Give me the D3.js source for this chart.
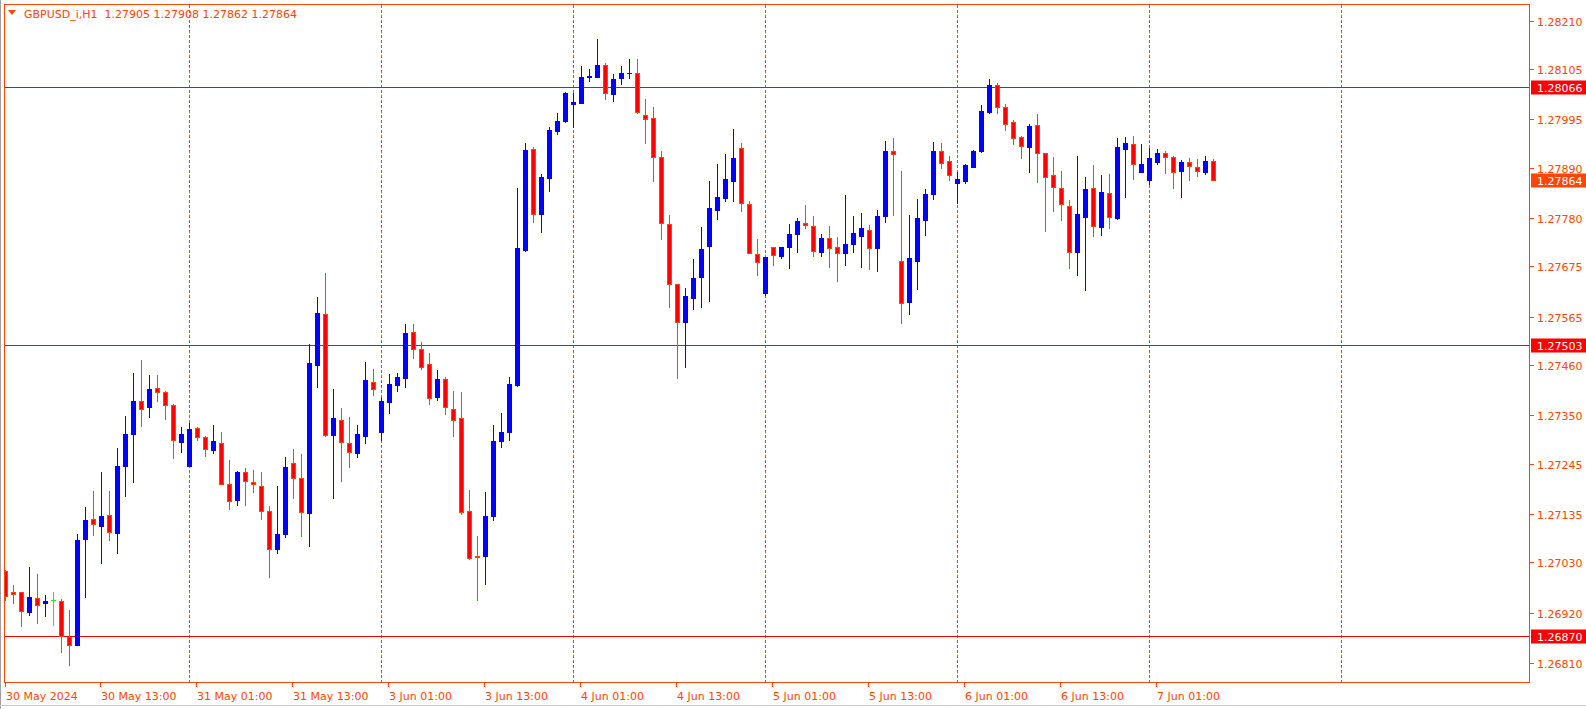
<!DOCTYPE html>
<html><head><meta charset="utf-8">
<script src="https://cdn.jsdelivr.net/npm/d3@7"></script>
<style>body{margin:0;background:#fff;overflow:hidden}svg{display:block}</style>
</head><body>
<svg id="c" width="1586" height="709"></svg>
<script>
const titleText = "GBPUSD_i,H1  1.27905 1.27908 1.27862 1.27864";
const opens = [1.27011,1.26965,1.26965,1.26922,1.26952,1.26942,1.26947,1.26945,1.26868,1.26850,
1.27081,1.27124,1.27110,1.27133,1.27094,1.27240,1.27310,1.27381,1.27369,1.27409,
1.27401,1.27373,1.27293,1.27240,1.27322,1.27304,1.27275,1.27291,1.27201,1.27166,
1.27226,1.27205,1.27196,1.27141,1.27059,1.27092,1.27246,1.27213,1.27138,1.27460,
1.27572,1.27308,1.27341,1.27290,1.27269,1.27306,1.27422,1.27314,1.27380,1.27417,
1.27432,1.27531,1.27494,1.27462,1.27391,1.27429,1.27365,1.27344,1.27141,1.27043,
1.27044,1.27131,1.27294,1.27315,1.27416,1.27710,1.27930,1.27789,1.27868,1.27970,
1.27991,1.28028,1.28031,1.28088,1.28088,1.28113,1.28051,1.28086,1.28095,1.28097,
1.28004,1.27997,1.27912,1.27766,1.27636,1.27554,1.27606,1.27652,1.27720,1.27798,
1.27824,1.27861,1.27933,1.27811,1.27702,1.27617,1.27716,1.27698,1.27717,1.27746,
1.27769,1.27762,1.27707,1.27736,1.27716,1.27704,1.27724,1.27741,1.27755,1.27715,
1.27785,1.27926,1.27686,1.27598,1.27687,1.27776,1.27833,1.27926,1.27904,1.27857,
1.27861,1.27892,1.27927,1.28012,1.28071,1.28023,1.27989,1.27956,1.27935,1.27982,
1.27921,1.27873,1.27845,1.27806,1.27707,1.27783,1.27845,1.27760,1.27834,1.27781,
1.27931,1.27941,1.27881,1.27864,1.27902,1.27922,1.27913,1.27883,1.27902,1.27891,
1.27881,1.27905];
const highs = [1.27013,1.26981,1.26966,1.27020,1.27004,1.26959,1.26965,1.26950,1.26926,1.27092,
1.27150,1.27185,1.27227,1.27185,1.27279,1.27349,1.27442,1.27471,1.27438,1.27438,
1.27403,1.27375,1.27324,1.27333,1.27324,1.27305,1.27329,1.27314,1.27253,1.27229,
1.27235,1.27231,1.27227,1.27153,1.27196,1.27259,1.27277,1.27266,1.27506,1.27608,
1.27660,1.27408,1.27366,1.27347,1.27329,1.27466,1.27451,1.27387,1.27440,1.27442,
1.27549,1.27549,1.27509,1.27486,1.27450,1.27434,1.27403,1.27401,1.27187,1.27087,
1.27183,1.27329,1.27356,1.27434,1.27845,1.27943,1.27935,1.27877,1.27978,1.28009,
1.28055,1.28052,1.28111,1.28105,1.28170,1.28118,1.28094,1.28111,1.28126,1.28126,
1.28039,1.28022,1.27926,1.27787,1.27637,1.27628,1.27691,1.27760,1.27861,1.27898,
1.27919,1.27974,1.27943,1.27817,1.27734,1.27695,1.27716,1.27717,1.27766,1.27781,
1.27808,1.27784,1.27745,1.27762,1.27738,1.27830,1.27785,1.27791,1.27765,1.27797,
1.27948,1.27954,1.27883,1.27787,1.27821,1.27843,1.27946,1.27943,1.27915,1.27880,
1.27897,1.27928,1.28026,1.28083,1.28074,1.28028,1.27993,1.27959,1.27985,1.28007,
1.27922,1.27913,1.27882,1.27819,1.27915,1.27869,1.27896,1.27874,1.27876,1.27954,
1.27957,1.27959,1.27941,1.27933,1.27930,1.27926,1.27915,1.27906,1.27911,1.27909,
1.27915,1.27908];
const lows = [1.26948,1.26942,1.26892,1.26915,1.26898,1.26914,1.26893,1.26835,1.26806,1.26849,
1.26955,1.27089,1.27029,1.27079,1.27051,1.27175,1.27206,1.27328,1.27347,1.27382,
1.27343,1.27258,1.27271,1.27239,1.27296,1.27262,1.27269,1.27200,1.27147,1.27155,
1.27155,1.27184,1.27125,1.26999,1.27050,1.27086,1.27171,1.27087,1.27066,1.27413,
1.27306,1.27171,1.27208,1.27238,1.27260,1.27291,1.27394,1.27296,1.27356,1.27404,
1.27413,1.27476,1.27452,1.27375,1.27384,1.27354,1.27305,1.27135,1.27038,1.26948,
1.26983,1.27122,1.27281,1.27296,1.27415,1.27708,1.27771,1.27750,1.27839,1.27964,
1.27990,1.27978,1.28030,1.28079,1.28087,1.28039,1.28035,1.28073,1.28086,1.28009,
1.27944,1.27861,1.27735,1.27587,1.27431,1.27456,1.27581,1.27587,1.27600,1.27779,
1.27818,1.27818,1.27796,1.27703,1.27657,1.27612,1.27678,1.27694,1.27671,1.27706,
1.27759,1.27698,1.27698,1.27674,1.27643,1.27678,1.27707,1.27674,1.27669,1.27665,
1.27771,1.27787,1.27552,1.27572,1.27626,1.27744,1.27822,1.27890,1.27863,1.27812,
1.27857,1.27891,1.27925,1.28009,1.28009,1.27972,1.27941,1.27911,1.27880,1.27858,
1.27752,1.27795,1.27776,1.27671,1.27657,1.27623,1.27741,1.27743,1.27759,1.27779,
1.27826,1.27866,1.27880,1.27854,1.27898,1.27879,1.27846,1.27826,1.27864,1.27872,
1.27877,1.27862];
const closes = [1.26957,1.26960,1.26925,1.26954,1.26938,1.26946,1.26947,1.26869,1.26849,1.27079,
1.27122,1.27113,1.27131,1.27097,1.27240,1.27309,1.27381,1.27365,1.27408,1.27400,
1.27372,1.27296,1.27309,1.27320,1.27304,1.27277,1.27294,1.27201,1.27164,1.27227,
1.27208,1.27200,1.27141,1.27060,1.27091,1.27238,1.27214,1.27140,1.27464,1.27573,
1.27307,1.27344,1.27293,1.27270,1.27309,1.27427,1.27407,1.27381,1.27418,1.27434,
1.27530,1.27494,1.27456,1.27389,1.27429,1.27369,1.27339,1.27140,1.27040,1.27042,
1.27130,1.27294,1.27315,1.27418,1.27715,1.27928,1.27788,1.27869,1.27972,1.27991,
1.28052,1.28033,1.28087,1.28089,1.28113,1.28052,1.28083,1.28096,1.28096,1.28012,
1.27995,1.27912,1.27769,1.27636,1.27553,1.27610,1.27649,1.27713,1.27802,1.27826,
1.27865,1.27911,1.27812,1.27703,1.27684,1.27695,1.27700,1.27716,1.27745,1.27773,
1.27764,1.27709,1.27736,1.27714,1.27703,1.27723,1.27747,1.27758,1.27715,1.27784,
1.27926,1.27919,1.27594,1.27692,1.27780,1.27832,1.27926,1.27901,1.27873,1.27865,
1.27896,1.27926,1.28013,1.28071,1.28021,1.27984,1.27954,1.27938,1.27980,1.27921,
1.27870,1.27848,1.27810,1.27707,1.27789,1.27843,1.27763,1.27837,1.27783,1.27935,
1.27943,1.27897,1.27898,1.27911,1.27922,1.27914,1.27881,1.27902,1.27894,1.27883,
1.27904,1.27864];
const timeLabels = ["30 May 2024","30 May 13:00","31 May 01:00","31 May 13:00","3 Jun 01:00","3 Jun 13:00","4 Jun 01:00","4 Jun 13:00","5 Jun 01:00","5 Jun 13:00","6 Jun 01:00","6 Jun 13:00","7 Jun 01:00"];
const timeLabelBars = [0,12,24,36,48,60,72,84,96,108,120,132,144];
const separatorBars = [23,47,71,95,119,143,167];
const priceTicks = [1.28210,1.28105,1.27995,1.27890,1.27780,1.27675,1.27565,1.27460,1.27350,1.27245,1.27135,1.27030,1.26920,1.26810];
const levelLines = [1.28066,1.27503,1.26870];
const lastPrice = 1.27864;

const FG = "#ff4500", BULL = "#0000ff", BEAR_FILL = "#ff0000", BEAR_LINE = "#ff4500", DOJI = "#00ff00", LEVEL = "#ff0000";
const FONT = "'DejaVu Sans', Verdana, sans-serif";
const L = 4.5, R = 1529.5, T = 4.5, B = 682.5;

const svg = d3.select("#c");
const x = d3.scaleLinear().domain([0, 151]).range([5.5, 5.5 + 151 * 8]);
const y = d3.scaleLinear().domain([1.26810, 1.28210]).range([663.3, 20.7]);

const bars = d3.range(opens.length).map(i => ({i, o: opens[i], h: highs[i], l: lows[i], c: closes[i]}));

// window edges
svg.append("line").attr("x1",0.5).attr("x2",0.5).attr("y1",0).attr("y2",709).attr("stroke","#a0a0a0");
svg.append("line").attr("x1",0).attr("x2",1586).attr("y1",705.5).attr("y2",705.5).attr("stroke","#c8c8c8");

svg.append("clipPath").attr("id","plot").append("rect").attr("x",L).attr("y",T).attr("width",R-L).attr("height",B-T);
const g = svg.append("g").attr("clip-path","url(#plot)").attr("shape-rendering","crispEdges");

// separators
g.selectAll("line.sep").data(separatorBars).join("line")
  .attr("x1", d => x(d)).attr("x2", d => x(d)).attr("y1", T).attr("y2", B)
  .attr("stroke", FG).attr("stroke-width", 1).attr("stroke-dasharray", "3,2");

// level lines
g.selectAll("line.lvl").data(levelLines).join("line")
  .attr("x1", L).attr("x2", R).attr("y1", d => Math.round(y(d)) + 0.5).attr("y2", d => Math.round(y(d)) + 0.5)
  .attr("stroke", LEVEL).attr("stroke-width", 1);

const col = d => d.c > d.o ? BULL : (d.c < d.o ? BEAR_LINE : DOJI);
// wicks
g.selectAll("line.wick").data(bars).join("line")
  .attr("x1", d => x(d.i)).attr("x2", d => x(d.i))
  .attr("y1", d => Math.round(y(d.h))).attr("y2", d => Math.round(y(d.l)) + 1)
  .attr("stroke", col).attr("stroke-width", 1);
// bodies
bars.forEach(d => {
  const top = Math.round(y(Math.max(d.o, d.c)));
  const bot = Math.round(y(Math.min(d.o, d.c)));
  if (d.c > d.o) {
    g.append("rect").attr("x", x(d.i) - 2.5).attr("y", top).attr("width", 5).attr("height", Math.max(1, bot - top + 1)).attr("fill", BULL);
  } else if (d.c < d.o) {
    g.append("rect").attr("x", x(d.i) - 2).attr("y", top + 0.5).attr("width", 4).attr("height", Math.max(0.5, bot - top))
      .attr("fill", BEAR_FILL).attr("stroke", BEAR_LINE).attr("stroke-width", 1);
  } else {
    g.append("line").attr("x1", x(d.i) - 2.5).attr("x2", x(d.i) + 2.5).attr("y1", top + 0.5).attr("y2", top + 0.5).attr("stroke", DOJI);
  }
});

// frame
svg.append("rect").attr("x", L).attr("y", T).attr("width", R - L).attr("height", B - T)
  .attr("fill", "none").attr("stroke", FG).attr("stroke-width", 1).attr("shape-rendering","crispEdges");

// price axis
const ax = svg.append("g");
priceTicks.forEach(p => {
  const yy = Math.round(y(p)) + 0.5;
  ax.append("line").attr("x1", R).attr("x2", R + 4).attr("y1", yy).attr("y2", yy).attr("stroke", FG).attr("shape-rendering","crispEdges");
  ax.append("text").attr("x", 1537).attr("y", yy + 4).attr("fill", FG).attr("font-family", FONT).attr("font-size", 11).text(p.toFixed(5));
});
function tag(p, bg) {
  const yy = Math.round(y(p)) + 0.5;
  ax.append("rect").attr("x", 1531).attr("y", yy - 7).attr("width", 55).attr("height", 14).attr("fill", bg);
  ax.append("text").attr("x", 1537).attr("y", yy + 4).attr("fill", "#fff").attr("font-family", FONT).attr("font-size", 11).text(p.toFixed(5));
}
levelLines.forEach(p => tag(p, LEVEL));
tag(lastPrice, FG);

// time axis
timeLabelBars.forEach((b, k) => {
  const xx = Math.round(b === 0 ? L : x(b) - 2);
  svg.append("line").attr("x1", xx + 0.5).attr("x2", xx + 0.5).attr("y1", B).attr("y2", B + 4).attr("stroke", FG).attr("shape-rendering","crispEdges");
  svg.append("text").attr("x", xx + 1).attr("y", 700).attr("fill", FG).attr("font-family", FONT).attr("font-size", 11).text(timeLabels[k]);
});

// title
svg.append("path").attr("d", "M8,10 L16,10 L12,15 Z").attr("fill", FG);
svg.append("text").attr("x", 24).attr("y", 18).attr("fill", FG).attr("font-family", FONT).attr("font-size", 11)
  .attr("xml:space", "preserve").style("white-space", "pre").text(titleText);
</script>
</body></html>
